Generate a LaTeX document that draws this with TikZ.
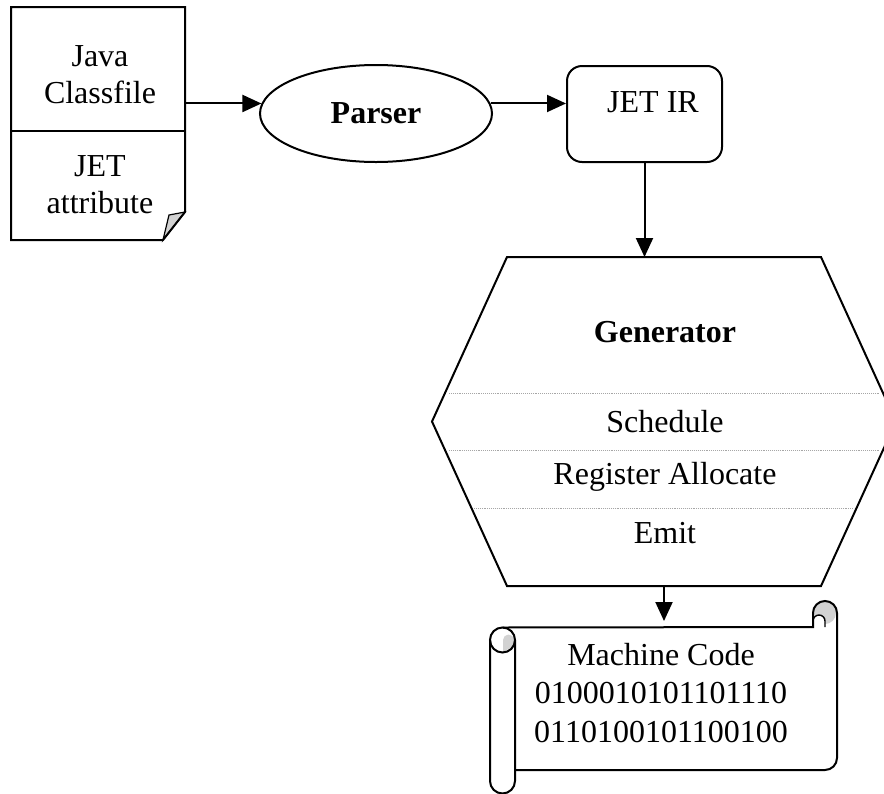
\documentclass[tikz,border=0pt]{standalone}
\usepackage{fontspec}
\setmainfont{Liberation Serif}
\usetikzlibrary{arrows.meta,shapes.geometric}

\begin{document}
\begin{tikzpicture}[x=1pt, y=-1pt, line width=2pt,
	every node/.style={font=\fontsize{32}{37}\selectfont, align=center, inner sep=0pt},
	e/.style={ellipse, draw, minimum width=232pt, minimum height=97pt},
	b/.style={draw, rounded corners=15pt, minimum width=155pt, minimum height=96pt},
	a/.style={-{Triangle[length=19pt,width=17pt]}},
	sep/.style={gray!70, line width=0.9pt, densely dotted}]
		\useasboundingbox (0,0) rectangle (884,793);

		% classfile
		\node[minimum width=172pt, minimum height=231pt] (doc) at (98,123.5) {};
		\filldraw[fill=gray!35, line width=1.2pt] ([yshift=28pt]doc.south east) -- ([xshift=-16pt,yshift=25pt]doc.south east) -- ([xshift=-22pt]doc.south east) -- cycle;
		\draw (doc.north west) -- (doc.north east) -- ([yshift=28pt]doc.south east) -- ([xshift=-22pt]doc.south east) -- (doc.south west) -- cycle;
		\draw ([yshift=-124pt]doc.north west) -- ([yshift=-124pt]doc.north east);
		\node (javacf) at (100,75) {Java\\Classfile};
		\node (jetattr) at (100,185) {JET\\attribute};

		\node[e] (parser) at (376,113.5) {\textbf{Parser}};
		\node[b] (jetir) at (644.5,114) {};
		\node (jetirtxt) at (653,102) {JET IR};

		% generator
		\node[minimum width=462pt, minimum height=327pt] (gen) at (664,421.5) {};
		\draw ([xshift=75pt]gen.north west) -- ([xshift=-75pt]gen.north east) -- (gen.east) -- ([xshift=-75pt]gen.south east) -- ([xshift=75pt]gen.south west) -- (gen.west) -- cycle;
		\draw[sep] (449,393) -- (879,393);
		\draw[sep] (449,450) -- (879,450);
		\draw[sep] (474,508) -- (854,508);
		\node (gentitle) at (665,332) {\textbf{Generator}};
		\node (sched) at (665,422) {Schedule};
		\node (regalloc) at (665,477) {Register Allocate};
		\node (emit) at (665,533) {Emit};

		% machine code scroll
		\node[minimum width=346pt, minimum height=166pt] (code) at (664,710) {};
		\fill[gray!35] (825,613) circle[radius=11pt];
		\filldraw[fill=white, line width=1.4pt] (813,627) -- (813,621) arc[start angle=180, end angle=0, radius=6pt] -- (825,627);
		\fill[gray!35] (503,652) -- (503,640) arc[start angle=180, end angle=0, radius=5.5pt] -- (514,646) -- cycle;
		\draw (515,770) -- (825,770) arc[start angle=-90, end angle=0, radius=12pt] -- (837,613) arc[start angle=0, end angle=180, radius=12pt] -- (813,627) -- (503,627.5);
		\draw (502.5,640) circle[radius=12.5pt];
		\draw (490,640) -- (490,781) arc[start angle=180, end angle=360, radius=12.5pt] -- (515,640);
		\node[font=\fontsize{32}{38.5}\selectfont] (codetxt) at (661,693) {Machine Code\\0100010101101110\\0110100101100100};

		\draw[a] (doc.east |- parser.175) -- (parser.175);
		\draw[a] (parser.5) -- (parser.5 -| jetir.west);
		\draw[a] (jetir.south) -- (jetir.south |- gen.north);
		\draw[a] (gen.south) -- ([yshift=5pt]code.north);
	\end{tikzpicture}
\end{document}
